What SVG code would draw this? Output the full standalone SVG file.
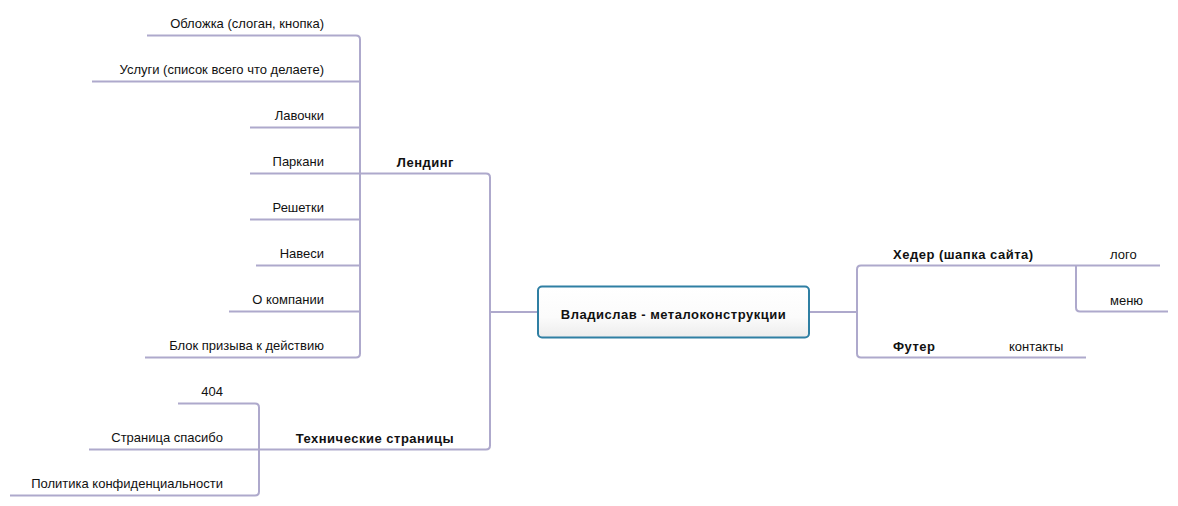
<svg xmlns="http://www.w3.org/2000/svg" width="1178" height="506" viewBox="0 0 1178 506">
<defs>
<linearGradient id="boxg" x1="0" y1="0" x2="0" y2="1">
<stop offset="0" stop-color="#ffffff"/>
<stop offset="0.6" stop-color="#fbfbfb"/>
<stop offset="1" stop-color="#ececec"/>
</linearGradient>
</defs>
<style>
.ln{fill:none;stroke:#aea9cc;stroke-width:2;stroke-linecap:butt}
.t{font-family:"Liberation Sans",Arial,sans-serif;font-size:13px;fill:#111}
.b{font-family:"Liberation Sans",Arial,sans-serif;font-size:13px;font-weight:bold;fill:#111;letter-spacing:0.5px}
.r{text-anchor:end}
.c{text-anchor:middle}
</style>
<rect width="1178" height="506" fill="#ffffff"/>
<g id="connectors">
<path class="ln" d="M147,35.5 H356 Q360,35.5 360,39.5 V353.5 Q360,357.5 356,357.5 H145"/>
<path class="ln" d="M92,81.5 H360"/>
<path class="ln" d="M250,127.5 H360"/>
<path class="ln" d="M250,173.5 H486 Q490,173.5 490,177.5 V445.5 Q490,449.5 486,449.5 H89"/>
<path class="ln" d="M250,219.5 H360"/>
<path class="ln" d="M256,265.5 H360"/>
<path class="ln" d="M229,311.5 H360"/>
<path class="ln" d="M490,312 H538"/>
<path class="ln" d="M178,403.5 H255 Q259,403.5 259,407.5 V491.5 Q259,495.5 255,495.5 H10"/>
<path class="ln" d="M809,312 H857"/>
<path class="ln" d="M1160,265.5 H861 Q857,265.5 857,269.5 V353.5 Q857,357.5 861,357.5 H1086"/>
<path class="ln" d="M1076,265.5 V307.5 Q1076,311.5 1080,311.5 H1168"/>
</g>
<g id="center">
<rect x="538" y="286.5" width="271" height="51" rx="4" fill="url(#boxg)" stroke="#2f7fa3" stroke-width="2"/>
<text class="b c" x="673.5" y="318.5">Владислав - металоконструкции</text>
</g>
<g id="landing"><text class="b r" x="454" y="167">Лендинг</text></g>
<g id="tech"><text class="b r" x="454" y="443">Технические страницы</text></g>
<g id="header"><text class="b" x="893" y="259">Хедер (шапка сайта)</text></g>
<g id="footer"><text class="b" x="893" y="351">Футер</text></g>
<g id="n-oblozhka"><text class="t r" x="324" y="28">Обложка (слоган, кнопка)</text></g>
<g id="n-uslugi"><text class="t r" x="324" y="74">Услуги (список всего что делаете)</text></g>
<g id="n-lavochki"><text class="t r" x="324" y="120">Лавочки</text></g>
<g id="n-parkani"><text class="t r" x="324" y="166">Паркани</text></g>
<g id="n-reshetki"><text class="t r" x="324" y="212">Решетки</text></g>
<g id="n-navesi"><text class="t r" x="324" y="258">Навеси</text></g>
<g id="n-okompanii"><text class="t r" x="324" y="304">О компании</text></g>
<g id="n-blok"><text class="t r" x="324" y="350">Блок призыва к действию</text></g>
<g id="n-404"><text class="t r" x="223" y="396">404</text></g>
<g id="n-spasibo"><text class="t r" x="223" y="442">Страница спасибо</text></g>
<g id="n-politika"><text class="t r" x="223" y="488">Политика конфиденциальности</text></g>
<g id="n-logo"><text class="t" x="1110" y="259">лого</text></g>
<g id="n-menu"><text class="t" x="1110" y="305">меню</text></g>
<g id="n-kontakty"><text class="t" x="1009" y="351">контакты</text></g>
</svg>
